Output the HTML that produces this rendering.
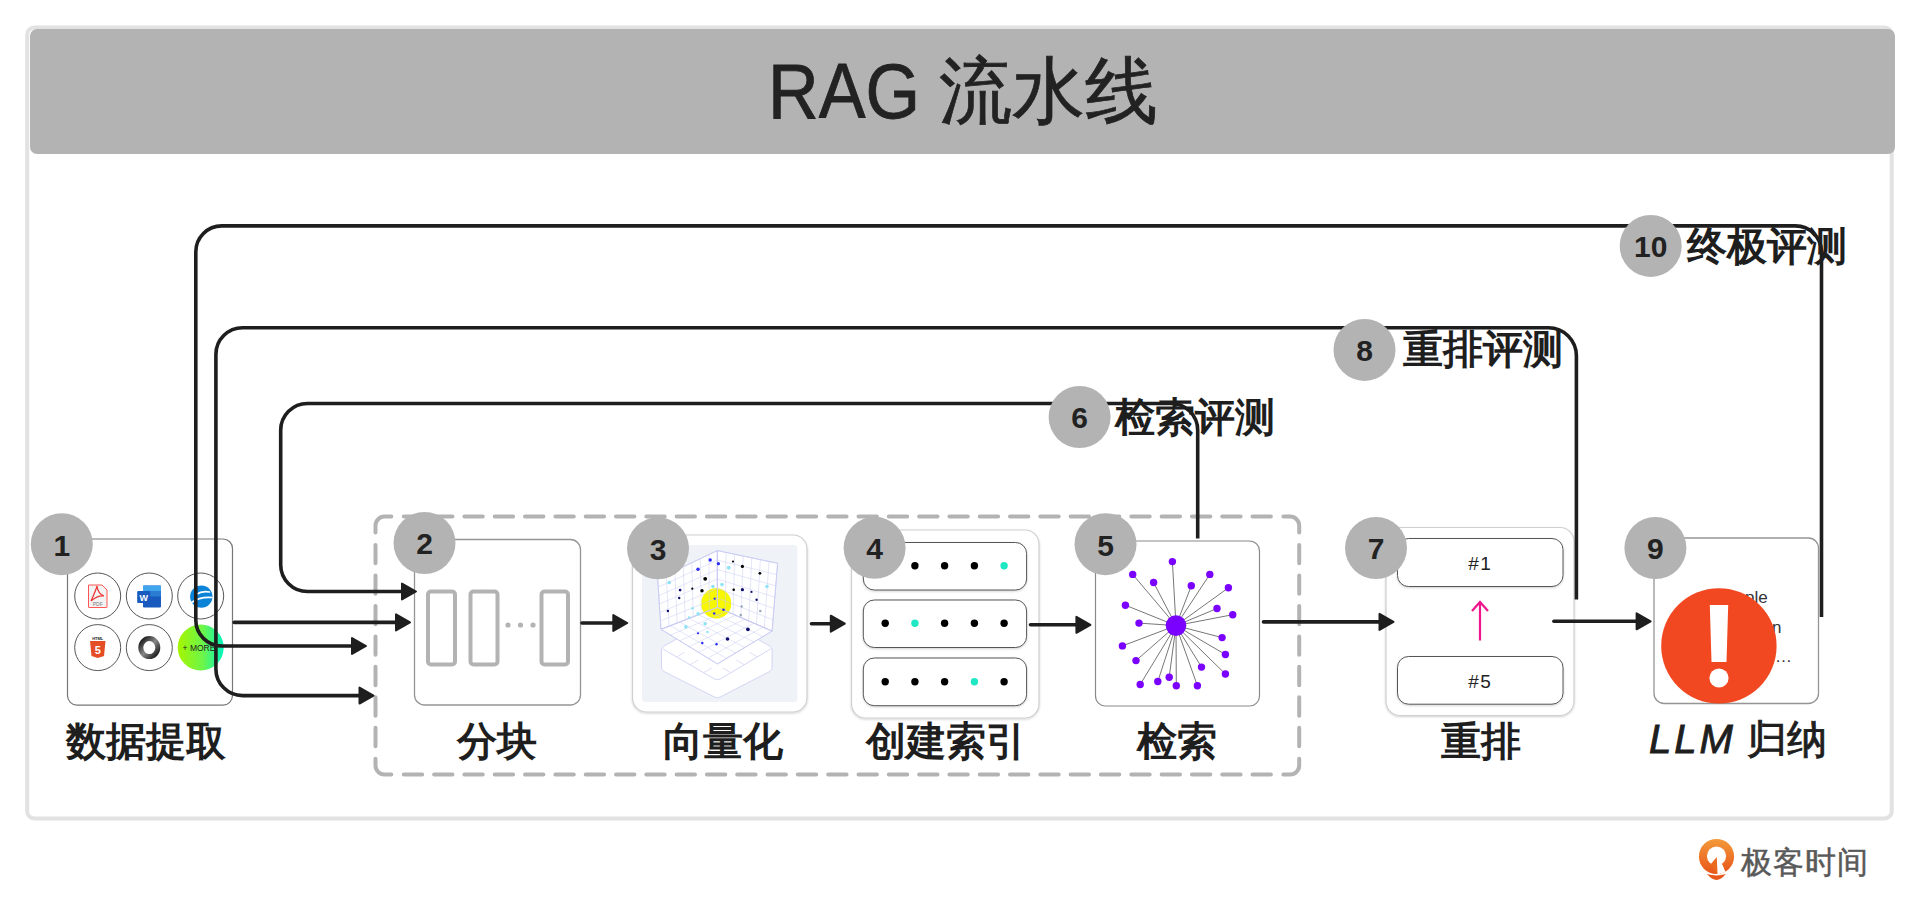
<!DOCTYPE html>
<html><head><meta charset="utf-8"><title>RAG 流水线</title>
<style>html,body{margin:0;padding:0;background:#fff;width:1920px;height:905px;overflow:hidden;font-family:"Liberation Sans",sans-serif} svg{display:block}</style>
</head><body>
<svg width="1920" height="905" viewBox="0 0 1920 905"><rect x="27.2" y="27.5" width="1864.5" height="791" rx="7" fill="#fff" stroke="#e2e2e2" stroke-width="4"/>
<rect x="30" y="29" width="1865" height="125" rx="7" fill="#b3b3b3"/>
<text x="768" y="118.4" font-family='"Liberation Sans", sans-serif' font-size="77" fill="#222" stroke="#222" stroke-width="0.8" textLength="152" lengthAdjust="spacingAndGlyphs">RAG</text>
<text x="939" y="116" font-family='"Liberation Sans", sans-serif' font-size="73" fill="#222" stroke="#222" stroke-width="0.7">流水线</text>
<path d="M375.5,532.4 V525.6 A9,9 0 0 1 384.5,516.6 H391.3 M1283.4,516.6 H1290.2 A9,9 0 0 1 1299.2,525.6 V532.4 M1299.2,758.7 V765.5 A9,9 0 0 1 1290.2,774.5 H1283.4 M391.3,774.5 H384.5 A9,9 0 0 1 375.5,765.5 V758.7 M403.8,516.6 H422.2 M403.8,774.5 H422.2 M434.1,516.6 H452.5 M434.1,774.5 H452.5 M464.4,516.6 H482.8 M464.4,774.5 H482.8 M494.7,516.6 H513.1 M494.7,774.5 H513.1 M525.0,516.6 H543.4 M525.0,774.5 H543.4 M555.4,516.6 H573.8 M555.4,774.5 H573.8 M585.7,516.6 H604.1 M585.7,774.5 H604.1 M616.0,516.6 H634.4 M616.0,774.5 H634.4 M646.3,516.6 H664.7 M646.3,774.5 H664.7 M676.6,516.6 H695.0 M676.6,774.5 H695.0 M706.9,516.6 H725.3 M706.9,774.5 H725.3 M737.2,516.6 H755.6 M737.2,774.5 H755.6 M767.5,516.6 H785.9 M767.5,774.5 H785.9 M797.8,516.6 H816.2 M797.8,774.5 H816.2 M828.2,516.6 H846.6 M828.2,774.5 H846.6 M858.5,516.6 H876.9 M858.5,774.5 H876.9 M888.8,516.6 H907.2 M888.8,774.5 H907.2 M919.1,516.6 H937.5 M919.1,774.5 H937.5 M949.4,516.6 H967.8 M949.4,774.5 H967.8 M979.7,516.6 H998.1 M979.7,774.5 H998.1 M1010.0,516.6 H1028.4 M1010.0,774.5 H1028.4 M1040.3,516.6 H1058.7 M1040.3,774.5 H1058.7 M1070.6,516.6 H1089.0 M1070.6,774.5 H1089.0 M1100.9,516.6 H1119.3 M1100.9,774.5 H1119.3 M1131.3,516.6 H1149.7 M1131.3,774.5 H1149.7 M1161.6,516.6 H1180.0 M1161.6,774.5 H1180.0 M1191.9,516.6 H1210.3 M1191.9,774.5 H1210.3 M1222.2,516.6 H1240.6 M1222.2,774.5 H1240.6 M1252.5,516.6 H1270.9 M1252.5,774.5 H1270.9 M375.5,544.9 V563.3 M1299.2,544.9 V563.3 M375.5,575.4 V593.8 M1299.2,575.4 V593.8 M375.5,605.9 V624.3 M1299.2,605.9 V624.3 M375.5,636.4 V654.8 M1299.2,636.4 V654.8 M375.5,666.8 V685.2 M1299.2,666.8 V685.2 M375.5,697.3 V715.7 M1299.2,697.3 V715.7 M375.5,727.8 V746.2 M1299.2,727.8 V746.2 " fill="none" stroke="#b3b3b3" stroke-width="4" stroke-linecap="round"/>
<defs><filter id="sh" x="-10%" y="-10%" width="120%" height="120%"><feDropShadow dx="0" dy="1" stdDeviation="1" flood-color="#000" flood-opacity="0.18"/></filter></defs>
<rect x="67.5" y="539" width="165.0" height="166.10000000000002" rx="9.5" fill="#fff" stroke="#777" stroke-width="1.2"/>
<circle cx="97.7" cy="596" r="23" fill="#fff" stroke="#444" stroke-width="0.9"/>
<circle cx="97.7" cy="647.6" r="23" fill="#fff" stroke="#444" stroke-width="0.9"/>
<circle cx="149.3" cy="596" r="23" fill="#fff" stroke="#444" stroke-width="0.9"/>
<circle cx="149.3" cy="647.6" r="23" fill="#fff" stroke="#444" stroke-width="0.9"/>
<circle cx="200.7" cy="596" r="23" fill="#fff" stroke="#444" stroke-width="0.9"/>
<path d="M88.5,585 H102 L107,590 V607 Q107,607.5 106.5,607.5 H89 Q88.5,607.5 88.5,607 Z" fill="#f3f3f3" stroke="#f55" stroke-width="1"/>
<path d="M91,601 Q96,590 97,586 Q98,594 104,596 Q98,595 91,601" fill="none" stroke="#e33" stroke-width="1.2"/>
<text x="97.7" y="605.5" font-family='"Liberation Sans", sans-serif' font-size="5" fill="#777" text-anchor="middle">PDF</text>
<rect x="143" y="585.6" width="18" height="22" rx="1" fill="#185abd"/>
<rect x="143" y="585.6" width="18" height="5.5" fill="#41a5ee"/><rect x="143" y="591" width="18" height="5.5" fill="#2b7cd3"/>
<rect x="137.2" y="590.9" width="13" height="12.2" rx="1" fill="#185abd"/>
<text x="143.7" y="600.5" font-family='"Liberation Sans", sans-serif' font-size="9" font-weight="bold" fill="#fff" text-anchor="middle">W</text>
<circle cx="201.3" cy="596.6" r="11.2" fill="#0b84d8"/>
<path d="M196,594.5 Q202,590.5 209.5,592 M191.5,602.5 Q200,596.5 212,597.5" fill="none" stroke="#fff" stroke-width="1.6" stroke-linecap="round"/>
<path d="M90,641 H105.5 L104,656 L97.7,658 L91.5,656 Z" fill="#e44d26"/>
<text x="97.7" y="653.5" font-family='"Liberation Sans", sans-serif' font-size="11" font-weight="bold" fill="#fff" text-anchor="middle">5</text>
<text x="97.7" y="639.8" font-family='"Liberation Sans", sans-serif' font-size="4" font-weight="bold" fill="#222" text-anchor="middle">HTML</text>
<defs><linearGradient id="jg" x1="0" y1="0" x2="1" y2="1"><stop offset="0" stop-color="#111"/><stop offset="0.5" stop-color="#888"/><stop offset="1" stop-color="#111"/></linearGradient><linearGradient id="mg" x1="0" y1="0" x2="1" y2="0"><stop offset="0" stop-color="#a6f500"/><stop offset="0.55" stop-color="#6cf54a"/><stop offset="1" stop-color="#00f5c0"/></linearGradient></defs>
<ellipse cx="149.3" cy="647.6" rx="8.5" ry="9" fill="none" stroke="url(#jg)" stroke-width="5"/>
<circle cx="200.7" cy="647.6" r="23" fill="url(#mg)"/>
<text x="199" y="650.5" font-family='"Liberation Sans", sans-serif' font-size="8.5" fill="#222" text-anchor="middle">+ MORE</text>
<rect x="414.5" y="539.5" width="166.0" height="165.5" rx="10" fill="#fff" stroke="#959595" stroke-width="1.3"/>
<rect x="428" y="591.5" width="27" height="73" rx="3" fill="none" stroke="#b3b3b3" stroke-width="4"/>
<rect x="470.5" y="591.5" width="27.0" height="73" rx="3" fill="none" stroke="#b3b3b3" stroke-width="4"/>
<rect x="541.5" y="591.5" width="26.5" height="73" rx="3" fill="none" stroke="#b3b3b3" stroke-width="4"/>
<circle cx="508" cy="625" r="2.6" fill="#b3b3b3"/>
<circle cx="520.5" cy="625" r="2.6" fill="#b3b3b3"/>
<circle cx="533" cy="625" r="2.6" fill="#b3b3b3"/>
<rect x="632.5" y="535" width="174.5" height="177" rx="14" fill="#fff" stroke="#cfcfcf" stroke-width="1.2" filter="url(#sh)"/>
<rect x="642" y="545" width="155.5" height="157" rx="4" fill="#eff3f7"/>
<path d="M661.5,650 Q661.5,647.5 664,646 L714.5,618 Q717.4,616.5 720.3,618 L769.6,646 Q772.1,647.5 772.1,650 V667.6 Q772.1,670 769.6,671.5 L720.3,697 Q717.4,698.5 714.5,697 L664,671.5 Q661.5,670 661.5,667.6 Z" fill="#fff" stroke="#c9ccf2" stroke-width="0.8"/>
<path d="M663,649 L714.5,679 Q717.4,680.5 720.3,679 L770.6,649" fill="none" stroke="#c9ccf2" stroke-width="0.8"/>
<line x1="676.6" y1="656.8" x2="684.6" y2="652.2" stroke="#c9ccf2" stroke-width="0.6"/>
<line x1="730.7" y1="672.5" x2="722.7" y2="667.9" stroke="#c9ccf2" stroke-width="0.6"/>
<line x1="690.2" y1="664.6" x2="698.2" y2="660.0" stroke="#c9ccf2" stroke-width="0.6"/>
<line x1="744.0" y1="664.6" x2="736.0" y2="660.0" stroke="#c9ccf2" stroke-width="0.6"/>
<line x1="703.8" y1="672.5" x2="711.8" y2="667.9" stroke="#c9ccf2" stroke-width="0.6"/>
<line x1="757.3" y1="656.8" x2="749.3" y2="652.2" stroke="#c9ccf2" stroke-width="0.6"/>
<path d="M717.4,550.6 L657.7,578.8 L661.0,629.3 L717.4,607.4 Z" fill="#fff" stroke="#c9ccf2" stroke-width="0.8"/>
<path d="M717.4,550.6 L777.6,563.3 L772.1,631.1 L717.4,607.4 Z" fill="#fff" stroke="#c9ccf2" stroke-width="0.8"/>
<path d="M717.4,607.4 L661.0,629.3 L717.4,663.9 L772.1,631.1 Z" fill="#fff" stroke="#c9ccf2" stroke-width="0.8"/>
<circle cx="716.2" cy="603.4" r="15.1" fill="#f7f700"/>
<path d="M708.9,554.6 L709.3,610.5 M700.3,558.7 L701.3,613.7 M691.8,562.7 L693.2,616.8 M683.3,566.7 L685.2,619.9 M674.8,570.7 L677.1,623.0 M666.2,574.8 L669.1,626.2 M717.4,560.1 L658.2,587.2 M717.4,569.5 L658.8,595.6 M717.4,579.0 L659.4,604.0 M717.4,588.5 L659.9,612.5 M717.4,597.9 L660.5,620.9 " fill="none" stroke="#c9ccf2" stroke-width="0.5"/>
<path d="M726.0,552.4 L725.2,610.8 M734.6,554.2 L733.0,614.2 M743.2,556.0 L740.8,617.6 M751.8,557.9 L748.7,620.9 M760.4,559.7 L756.5,624.3 M769.0,561.5 L764.3,627.7 M717.4,560.1 L776.7,574.6 M717.4,569.5 L775.8,585.9 M717.4,579.0 L774.9,597.2 M717.4,588.5 L773.9,608.5 M717.4,597.9 L773.0,619.8 " fill="none" stroke="#c9ccf2" stroke-width="0.5"/>
<path d="M708.0,611.0 L763.0,636.6 M698.6,614.7 L753.9,642.0 M689.2,618.3 L744.8,647.5 M679.8,622.0 L735.6,653.0 M670.4,625.6 L726.5,658.4 M726.5,611.4 L670.4,635.1 M735.6,615.3 L679.8,640.8 M744.8,619.2 L689.2,646.6 M753.9,623.2 L698.6,652.4 M763.0,627.1 L708.0,658.1 " fill="none" stroke="#c9ccf2" stroke-width="0.5"/>
<path d="M717.4,550.6 L657.7,578.8 L661.0,629.3 L717.4,607.4 Z" fill="none" stroke="#c9ccf2" stroke-width="0.8"/>
<path d="M717.4,550.6 L777.6,563.3 L772.1,631.1 L717.4,607.4 Z" fill="none" stroke="#c9ccf2" stroke-width="0.8"/>
<path d="M717.4,607.4 L661.0,629.3 L717.4,663.9 L772.1,631.1 Z" fill="none" stroke="#c9ccf2" stroke-width="0.8"/>
<circle cx="710.2" cy="560" r="1.7" fill="#2a2af0"/>
<circle cx="718.4" cy="563.7" r="1.6" fill="#2a2af0"/>
<circle cx="698" cy="569.2" r="1.7" fill="#2a2af0"/>
<circle cx="733" cy="561.5" r="1.1" fill="#000"/>
<circle cx="742.4" cy="566.4" r="1.6" fill="#000"/>
<circle cx="728.7" cy="567.7" r="1.9" fill="#8ee3f5"/>
<circle cx="759.9" cy="573.3" r="1.4" fill="#000"/>
<circle cx="705.2" cy="578.8" r="1.9" fill="#000"/>
<circle cx="669.2" cy="582.6" r="1.8" fill="#8ee3f5"/>
<circle cx="712.9" cy="586.5" r="1.8" fill="#8ee3f5"/>
<circle cx="722" cy="584.6" r="1.8" fill="#8ee3f5"/>
<circle cx="767" cy="586.5" r="1.8" fill="#8ee3f5"/>
<circle cx="680.1" cy="590.1" r="1.4" fill="#10106a"/>
<circle cx="692.3" cy="588.7" r="1.1" fill="#000"/>
<circle cx="702" cy="590.7" r="1.7" fill="#000"/>
<circle cx="733.7" cy="589.7" r="1.3" fill="#000"/>
<circle cx="742.4" cy="589.7" r="1.6" fill="#10106a"/>
<circle cx="751.5" cy="591.9" r="1.1" fill="#10106a"/>
<circle cx="679.2" cy="598" r="1.2" fill="#10106a"/>
<circle cx="714.7" cy="598.7" r="1.1" fill="#2a2af0"/>
<circle cx="756.6" cy="599.8" r="1.2" fill="#10106a"/>
<circle cx="667.9" cy="611" r="1.2" fill="#10106a"/>
<circle cx="692.5" cy="608.3" r="1.3" fill="#8ee3f5"/>
<circle cx="698" cy="613.8" r="1.7" fill="#8ee3f5"/>
<circle cx="689.2" cy="617.4" r="1.2" fill="#8ee3f5"/>
<circle cx="723.5" cy="609.8" r="1.3" fill="#2a2af0"/>
<circle cx="714.2" cy="613.4" r="1.2" fill="#2a2af0"/>
<circle cx="741.7" cy="606.5" r="1.2" fill="#9ab"/>
<circle cx="760.3" cy="611" r="1.3" fill="#9ab"/>
<circle cx="740.8" cy="615.1" r="1.3" fill="#9ab"/>
<circle cx="705.1" cy="623.8" r="1.8" fill="#8ee3f5"/>
<circle cx="685.9" cy="626.9" r="1.8" fill="#8ee3f5"/>
<circle cx="707.4" cy="632" r="1.3" fill="#8ee3f5"/>
<circle cx="698" cy="633.3" r="1.1" fill="#2a2af0"/>
<circle cx="747.9" cy="629.3" r="1.9" fill="#10106a"/>
<circle cx="727.5" cy="639" r="1.8" fill="#10106a"/>
<circle cx="702.3" cy="643" r="1.2" fill="#2a2af0"/>
<circle cx="716.5" cy="644.2" r="1.2" fill="#2a2af0"/>
<rect x="851.5" y="530" width="187.5" height="188" rx="14" fill="#fff" stroke="#cfcfcf" stroke-width="1.2" filter="url(#sh)"/>
<rect x="863.3" y="542.5" width="163.29999999999995" height="47.5" rx="11" fill="#fff" stroke="#555" stroke-width="1" filter="url(#sh)"/>
<circle cx="914.9" cy="565.7" r="3.7" fill="#000"/>
<circle cx="944.6" cy="565.7" r="3.7" fill="#000"/>
<circle cx="974.4" cy="565.7" r="3.7" fill="#000"/>
<circle cx="1004.1" cy="565.7" r="3.7" fill="#1ee8c4"/>
<rect x="863.3" y="600" width="163.29999999999995" height="47.5" rx="11" fill="#fff" stroke="#555" stroke-width="1" filter="url(#sh)"/>
<circle cx="885.2" cy="623.3" r="3.7" fill="#000"/>
<circle cx="914.9" cy="623.3" r="3.7" fill="#1ee8c4"/>
<circle cx="944.6" cy="623.3" r="3.7" fill="#000"/>
<circle cx="974.4" cy="623.3" r="3.7" fill="#000"/>
<circle cx="1004.1" cy="623.3" r="3.7" fill="#000"/>
<rect x="863.3" y="658" width="163.29999999999995" height="47.700000000000045" rx="11" fill="#fff" stroke="#555" stroke-width="1" filter="url(#sh)"/>
<circle cx="885.2" cy="681.8" r="3.7" fill="#000"/>
<circle cx="914.9" cy="681.8" r="3.7" fill="#000"/>
<circle cx="944.6" cy="681.8" r="3.7" fill="#000"/>
<circle cx="974.4" cy="681.8" r="3.7" fill="#1ee8c4"/>
<circle cx="1004.1" cy="681.8" r="3.7" fill="#000"/>
<rect x="1095.5" y="541" width="164.0" height="165" rx="10" fill="#fff" stroke="#8a8a8a" stroke-width="1.2"/>
<path d="M1176,625.6 L1172.4,561.6 M1176,625.6 L1132.7,574.4 M1176,625.6 L1153.6,582.5 M1176,625.6 L1191.3,585.8 M1176,625.6 L1209.8,574.4 M1176,625.6 L1228.4,587.8 M1176,625.6 L1125.4,605.2 M1176,625.6 L1217,608.5 M1176,625.6 L1232.7,614.7 M1176,625.6 L1139,623.1 M1176,625.6 L1122.4,645.9 M1176,625.6 L1222.1,637.6 M1176,625.6 L1225.4,654.5 M1176,625.6 L1136,660.6 M1176,625.6 L1201.5,667.1 M1176,625.6 L1225.4,674 M1176,625.6 L1140.2,684.5 M1176,625.6 L1157.8,681.5 M1176,625.6 L1169.2,677.2 M1176,625.6 L1176.3,685.7 M1176,625.6 L1197.4,685.7 " stroke="#777" stroke-width="1" fill="none"/>
<circle cx="1172.4" cy="561.6" r="3.7" fill="#7a00ff"/>
<circle cx="1132.7" cy="574.4" r="3.7" fill="#7a00ff"/>
<circle cx="1153.6" cy="582.5" r="3.7" fill="#7a00ff"/>
<circle cx="1191.3" cy="585.8" r="3.7" fill="#7a00ff"/>
<circle cx="1209.8" cy="574.4" r="3.7" fill="#7a00ff"/>
<circle cx="1228.4" cy="587.8" r="3.7" fill="#7a00ff"/>
<circle cx="1125.4" cy="605.2" r="3.7" fill="#7a00ff"/>
<circle cx="1217" cy="608.5" r="3.7" fill="#7a00ff"/>
<circle cx="1232.7" cy="614.7" r="3.7" fill="#7a00ff"/>
<circle cx="1139" cy="623.1" r="3.7" fill="#7a00ff"/>
<circle cx="1122.4" cy="645.9" r="3.7" fill="#7a00ff"/>
<circle cx="1222.1" cy="637.6" r="3.7" fill="#7a00ff"/>
<circle cx="1225.4" cy="654.5" r="3.7" fill="#7a00ff"/>
<circle cx="1136" cy="660.6" r="3.7" fill="#7a00ff"/>
<circle cx="1201.5" cy="667.1" r="3.7" fill="#7a00ff"/>
<circle cx="1225.4" cy="674" r="3.7" fill="#7a00ff"/>
<circle cx="1140.2" cy="684.5" r="3.7" fill="#7a00ff"/>
<circle cx="1157.8" cy="681.5" r="3.7" fill="#7a00ff"/>
<circle cx="1169.2" cy="677.2" r="3.7" fill="#7a00ff"/>
<circle cx="1176.3" cy="685.7" r="3.7" fill="#7a00ff"/>
<circle cx="1197.4" cy="685.7" r="3.7" fill="#7a00ff"/>
<circle cx="1176" cy="625.6" r="10.3" fill="#7a00ff"/>
<rect x="1386" y="527.5" width="188" height="188.0" rx="14" fill="#fff" stroke="#cfcfcf" stroke-width="1.2" filter="url(#sh)"/>
<rect x="1397.5" y="538.5" width="165.5" height="48.0" rx="11" fill="#fff" stroke="#555" stroke-width="1" filter="url(#sh)"/>
<rect x="1397.5" y="656.5" width="165.5" height="47.700000000000045" rx="11" fill="#fff" stroke="#555" stroke-width="1" filter="url(#sh)"/>
<text x="1480.3" y="569.5" font-family='"Liberation Sans", sans-serif' font-size="19" letter-spacing="1.5" fill="#222" text-anchor="middle">#1</text>
<text x="1480.3" y="687.5" font-family='"Liberation Sans", sans-serif' font-size="19" letter-spacing="1.5" fill="#222" text-anchor="middle">#5</text>
<path d="M1480,640.5 V602 M1472,611 L1480,602 L1488,611" fill="none" stroke="#f0158c" stroke-width="2.2"/>
<rect x="1654" y="538" width="164.5" height="165.5" rx="10" fill="#fff" stroke="#959595" stroke-width="1.3"/>
<text x="1745" y="603" font-family='"Liberation Sans", sans-serif' font-size="17" fill="#333">ple</text>
<text x="1775" y="662" font-family='"Liberation Sans", sans-serif' font-size="17" fill="#333">…</text>
<text x="1772" y="633" font-family='"Liberation Sans", sans-serif' font-size="17" fill="#333">n</text>
<circle cx="1718.9" cy="645.9" r="57.7" fill="#f24822"/>
<path d="M1709.8,605 H1728.2 L1726.5,662 H1711.5 Z" fill="#fff"/>
<circle cx="1719" cy="678" r="9.6" fill="#fff"/>
<path d="M1821.5,617 V251.5 A26,26 0 0 0 1795.5,225.9 H221.8 A26,26 0 0 0 195.8,251.9 V620 A26,26 0 0 0 221.8,646 H355" fill="none" stroke="#1e1e1e" stroke-width="3.6" stroke-linecap="butt"/>
<path d="M366,646 L352,638 L352,654 Z" fill="#1e1e1e" stroke="#1e1e1e" stroke-width="2" stroke-linejoin="round"/>
<path d="M1576.4,599.4 V355.7 A28,28 0 0 0 1548.4,327.7 H242.6 A26.7,26.7 0 0 0 215.9,354.4 V668.9 A26.7,26.7 0 0 0 242.6,695.6 H362" fill="none" stroke="#1e1e1e" stroke-width="3.6" stroke-linecap="butt"/>
<path d="M373.5,695.6 L359.5,687.6 L359.5,703.6 Z" fill="#1e1e1e" stroke="#1e1e1e" stroke-width="2" stroke-linejoin="round"/>
<path d="M1197.7,538.5 V430.3 A26.8,26.8 0 0 0 1170.9,403.5 H307.5 A26.8,26.8 0 0 0 280.7,430.3 V564.7 A26.8,26.8 0 0 0 307.5,591.5 H405" fill="none" stroke="#1e1e1e" stroke-width="3.6" stroke-linecap="butt"/>
<path d="M416,591.5 L402,583.5 L402,599.5 Z" fill="#1e1e1e" stroke="#1e1e1e" stroke-width="2" stroke-linejoin="round"/>
<path d="M234.2,622.4 H399" fill="none" stroke="#1e1e1e" stroke-width="3.6" stroke-linecap="round"/>
<path d="M410,622.4 L396,614.4 L396,630.4 Z" fill="#1e1e1e" stroke="#1e1e1e" stroke-width="2" stroke-linejoin="round"/>
<path d="M582.0,623 H616.3" fill="none" stroke="#1e1e1e" stroke-width="3.6" stroke-linecap="round"/>
<path d="M627.3,623 L613.3,615 L613.3,631 Z" fill="#1e1e1e" stroke="#1e1e1e" stroke-width="2" stroke-linejoin="round"/>
<path d="M811.5,623.7 H833.8" fill="none" stroke="#1e1e1e" stroke-width="3.6" stroke-linecap="round"/>
<path d="M844.8,623.7 L830.8,615.7 L830.8,631.7 Z" fill="#1e1e1e" stroke="#1e1e1e" stroke-width="2" stroke-linejoin="round"/>
<path d="M1030.5,624.8 H1079.4" fill="none" stroke="#1e1e1e" stroke-width="3.6" stroke-linecap="round"/>
<path d="M1090.4,624.8 L1076.4,616.8 L1076.4,632.8 Z" fill="#1e1e1e" stroke="#1e1e1e" stroke-width="2" stroke-linejoin="round"/>
<path d="M1263.5,621.9 H1382.5" fill="none" stroke="#1e1e1e" stroke-width="3.6" stroke-linecap="round"/>
<path d="M1393.5,621.9 L1379.5,613.9 L1379.5,629.9 Z" fill="#1e1e1e" stroke="#1e1e1e" stroke-width="2" stroke-linejoin="round"/>
<path d="M1553.9,621.3 H1639.6" fill="none" stroke="#1e1e1e" stroke-width="3.6" stroke-linecap="round"/>
<path d="M1650.6,621.3 L1636.6,613.3 L1636.6,629.3 Z" fill="#1e1e1e" stroke="#1e1e1e" stroke-width="2" stroke-linejoin="round"/>
<circle cx="61.8" cy="544.2" r="31" fill="#b3b3b3"/><text x="61.8" y="555.5" font-family='"Liberation Sans", sans-serif' font-size="30" font-weight="bold" fill="#222" text-anchor="middle">1</text>
<circle cx="424.5" cy="543" r="31" fill="#b3b3b3"/><text x="424.5" y="554.3" font-family='"Liberation Sans", sans-serif' font-size="30" font-weight="bold" fill="#222" text-anchor="middle">2</text>
<circle cx="658" cy="548.3" r="31" fill="#b3b3b3"/><text x="658" y="559.5999999999999" font-family='"Liberation Sans", sans-serif' font-size="30" font-weight="bold" fill="#222" text-anchor="middle">3</text>
<circle cx="874.6" cy="547.8" r="31" fill="#b3b3b3"/><text x="874.6" y="559.0999999999999" font-family='"Liberation Sans", sans-serif' font-size="30" font-weight="bold" fill="#222" text-anchor="middle">4</text>
<circle cx="1105.5" cy="544.2" r="31" fill="#b3b3b3"/><text x="1105.5" y="555.5" font-family='"Liberation Sans", sans-serif' font-size="30" font-weight="bold" fill="#222" text-anchor="middle">5</text>
<circle cx="1079.6" cy="417" r="31" fill="#b3b3b3"/><text x="1079.6" y="428.3" font-family='"Liberation Sans", sans-serif' font-size="30" font-weight="bold" fill="#222" text-anchor="middle">6</text>
<circle cx="1376" cy="548" r="31" fill="#b3b3b3"/><text x="1376" y="559.3" font-family='"Liberation Sans", sans-serif' font-size="30" font-weight="bold" fill="#222" text-anchor="middle">7</text>
<circle cx="1364.5" cy="349.9" r="31" fill="#b3b3b3"/><text x="1364.5" y="361.2" font-family='"Liberation Sans", sans-serif' font-size="30" font-weight="bold" fill="#222" text-anchor="middle">8</text>
<circle cx="1655.4" cy="548" r="31" fill="#b3b3b3"/><text x="1655.4" y="559.3" font-family='"Liberation Sans", sans-serif' font-size="30" font-weight="bold" fill="#222" text-anchor="middle">9</text>
<circle cx="1650.7" cy="245.9" r="31" fill="#b3b3b3"/><text x="1650.7" y="257.2" font-family='"Liberation Sans", sans-serif' font-size="30" font-weight="bold" fill="#222" text-anchor="middle">10</text>
<text x="145.7" y="755" font-family='"Liberation Sans", sans-serif' font-size="40" font-weight="bold" fill="#1e1e1e" text-anchor="middle">数据提取</text>
<text x="496.9" y="755" font-family='"Liberation Sans", sans-serif' font-size="40" font-weight="bold" fill="#1e1e1e" text-anchor="middle">分块</text>
<text x="722.8" y="755" font-family='"Liberation Sans", sans-serif' font-size="40" font-weight="bold" fill="#1e1e1e" text-anchor="middle">向量化</text>
<text x="946" y="755" font-family='"Liberation Sans", sans-serif' font-size="40" font-weight="bold" fill="#1e1e1e" text-anchor="middle">创建索引</text>
<text x="1177" y="755" font-family='"Liberation Sans", sans-serif' font-size="40" font-weight="bold" fill="#1e1e1e" text-anchor="middle">检索</text>
<text x="1481.2" y="755" font-family='"Liberation Sans", sans-serif' font-size="40" font-weight="bold" fill="#1e1e1e" text-anchor="middle">重排</text>
<text x="1738" y="753" font-family='"Liberation Sans", sans-serif' font-size="40" fill="#1e1e1e" text-anchor="middle"><tspan font-style="italic" letter-spacing="3" stroke="#1e1e1e" stroke-width="0.9">LLM</tspan> <tspan stroke="#1e1e1e" stroke-width="0.9">归纳</tspan></text>
<text x="1687" y="260" font-family='"Liberation Sans", sans-serif' font-size="40" font-weight="bold" fill="#1e1e1e" text-anchor="start">终极评测</text>
<text x="1403" y="363" font-family='"Liberation Sans", sans-serif' font-size="40" font-weight="bold" fill="#1e1e1e" text-anchor="start">重排评测</text>
<text x="1115" y="431" font-family='"Liberation Sans", sans-serif' font-size="40" font-weight="bold" fill="#1e1e1e" text-anchor="start">检索评测</text>
<defs><linearGradient id="lg" x1="0" y1="0" x2="0" y2="1"><stop offset="0" stop-color="#f39a3a"/><stop offset="1" stop-color="#e8541a"/></linearGradient></defs>
<circle cx="1716.5" cy="856.5" r="17.6" fill="url(#lg)"/>
<circle cx="1716.5" cy="856" r="9.6" fill="#fff"/>
<path d="M1717,857 L1722.5,865 L1725.5,872 L1717.3,874.5 Z" fill="#fff"/>
<path d="M1710.5,864.5 L1716.8,857 L1717.3,874 Z" fill="#ec6a1e"/>
<path d="M1707,874.1 Q1716.5,877 1725.8,874.1 Q1721,880 1716.5,880 Q1712,880 1707,874.1 Z" fill="#e8581a"/>
<text x="1741" y="873" font-family='"Liberation Sans", sans-serif' font-size="31" letter-spacing="1" fill="#595959" stroke="#595959" stroke-width="0.5">极客时间</text></svg>
</body></html>
